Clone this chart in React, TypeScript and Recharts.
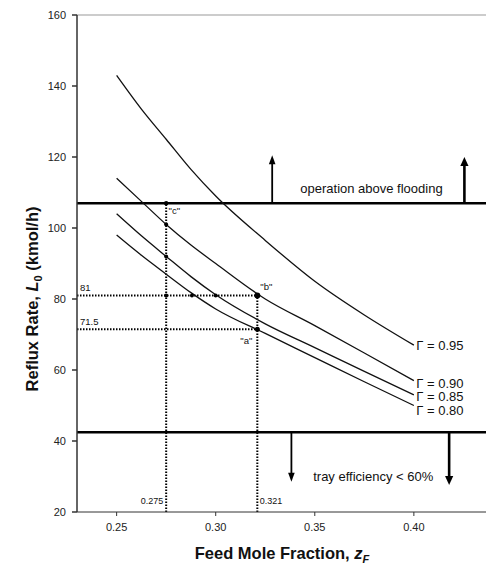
import { LineChart, Line, XAxis, YAxis, ReferenceLine, ReferenceDot } from 'recharts';

// feed mole fraction grid and reflux rate for each tray-efficiency curve
const zF = [0.25, 0.2625, 0.275, 0.2875, 0.30, 0.325, 0.35, 0.375, 0.40];
const gamma95 = [143, 133.5, 125, 116.5, 109, 96.5, 85, 75.5, 67];
const gamma90 = [114, 107.5, 101, 95.2, 90, 80, 72.5, 64.8, 57];
const gamma85 = [104, 97.8, 92, 86.3, 81.2, 73, 66.3, 59.6, 53];
const gamma80 = [98, 92.3, 87, 81.8, 77.2, 70.3, 63.5, 56.7, 50];

const SERIES = [
  { key: 'g95', values: gamma95, label: 'Γ = 0.95', labelY: 66.8 },
  { key: 'g90', values: gamma90, label: 'Γ = 0.90', labelY: 56.3 },
  { key: 'g85', values: gamma85, label: 'Γ = 0.85', labelY: 52.4 },
  { key: 'g80', values: gamma80, label: 'Γ = 0.80', labelY: 48.6 },
];

const X_TICKS = [0.25, 0.3, 0.35, 0.4];
const Y_TICKS = [20, 40, 60, 80, 100, 120, 140, 160];

const FLOODING = 107;
const LOW_EFFICIENCY = 42.5;

// dotted construction lines
const guides = [
  [{ x: 0.23, y: 81 }, { x: 0.321, y: 81 }],
  [{ x: 0.23, y: 71.5 }, { x: 0.321, y: 71.5 }],
  [{ x: 0.275, y: 20 }, { x: 0.275, y: 107 }],
  [{ x: 0.321, y: 20 }, { x: 0.321, y: 81 }],
];

const markers = [
  { x: 0.275, y: 107, r: 2.2 },
  { x: 0.275, y: 101, r: 2 },
  { x: 0.275, y: 92, r: 2 },
  { x: 0.275, y: 81, r: 2 },
  { x: 0.288, y: 81, r: 2 },
  { x: 0.30, y: 81, r: 2 },
  { x: 0.321, y: 81, r: 3 },
  { x: 0.321, y: 71.5, r: 2.5 },
];

// arrows: x, line start, tip
const upArrows = [
  { x: 0.3285, from: FLOODING, to: 120.5, w: 1.8 },
  { x: 0.4255, from: FLOODING, to: 120, w: 2.6 },
];
const downArrows = [
  { x: 0.3382, from: LOW_EFFICIENCY, to: 28.5, w: 1.8 },
  { x: 0.4178, from: LOW_EFFICIENCY, to: 27.6, w: 2.6 },
];

const notes = [
  { x: 0.3786, y: 110, text: 'operation above flooding', anchor: 'middle', size: 13 },
  { x: 0.3795, y: 28.7, text: 'tray efficiency < 60%', anchor: 'middle', size: 13 },
  { x: 0.2315, y: 82.2, text: '81', anchor: 'start', size: 9.5 },
  { x: 0.2315, y: 72.7, text: '71.5', anchor: 'start', size: 9.5 },
  { x: 0.2735, y: 22.3, text: '0.275', anchor: 'end', size: 9 },
  { x: 0.3222, y: 22.3, text: '0.321', anchor: 'start', size: 9 },
  { x: 0.2762, y: 104, text: '"c"', anchor: 'start', size: 9.5 },
  { x: 0.3225, y: 82.5, text: '"b"', anchor: 'start', size: 9.5 },
  { x: 0.3185, y: 67.2, text: '"a"', anchor: 'end', size: 9.5 },
];

const data = zF.map((z, i) => ({
  z,
  g95: gamma95[i],
  g90: gamma90[i],
  g85: gamma85[i],
  g80: gamma80[i],
}));

const FONT = "'Liberation Sans', Arial, sans-serif";
const tickStyle = { fill: '#222', fontSize: 11, fontFamily: FONT };

function textShape(text: string, anchor: string, size: number) {
  return (p: any) => (
    <text x={p.cx} y={p.cy} textAnchor={anchor} fontSize={size} fontFamily={FONT} fill="#111">
      {text}
    </text>
  );
}

function upHead(w: number) {
  return (p: any) => (
    <polygon points={`${p.cx},${p.cy} ${p.cx - w - 1.5},${p.cy + 9} ${p.cx + w + 1.5},${p.cy + 9}`} fill="#000" />
  );
}

function downHead(w: number) {
  return (p: any) => (
    <polygon points={`${p.cx},${p.cy} ${p.cx - w - 1.5},${p.cy - 9} ${p.cx + w + 1.5},${p.cy - 9}`} fill="#000" />
  );
}

const YLabel = () => (
  <text
    transform="translate(38,299) rotate(-90)"
    textAnchor="middle"
    fontSize={16.5}
    fontWeight="bold"
    fontFamily={FONT}
    fill="#111"
  >
    Reflux Rate, <tspan fontStyle="italic">L</tspan>
    <tspan dy={4} fontSize={11}>0</tspan>
    <tspan dy={-4}> (kmol/h)</tspan>
  </text>
);

const XLabel = () => (
  <text x={282} y={559} textAnchor="middle" fontSize={16.5} fontWeight="bold" fontFamily={FONT} fill="#111">
    Feed Mole Fraction, <tspan fontStyle="italic">z</tspan>
    <tspan dy={4} fontSize={11} fontStyle="italic">F</tspan>
  </text>
);

export default function App() {
  return (
    <div style={{ width: 486, height: 567, background: '#fff' }}>
      <style>{'body{margin:0}'}</style>
      <LineChart width={486} height={567} data={data} margin={{ top: 15, right: 0, bottom: 0, left: 0 }}>
        <XAxis
          dataKey="z"
          type="number"
          domain={[0.23, 0.4364]}
          allowDataOverflow
          ticks={X_TICKS}
          tickFormatter={(v: number) => v.toFixed(2)}
          tick={tickStyle}
          tickSize={4}
          tickMargin={7}
          height={55}
          stroke="#333"
          label={{ content: <XLabel /> }}
        />
        <YAxis
          type="number"
          domain={[20, 160]}
          ticks={Y_TICKS}
          tick={tickStyle}
          tickSize={5}
          tickMargin={6}
          width={77}
          stroke="#333"
          strokeWidth={1.5}
          label={{ content: <YLabel /> }}
        />
        <ReferenceLine y={160} stroke="#999" strokeWidth={1} />
        <ReferenceLine y={FLOODING} stroke="#000" strokeWidth={2.5} />
        <ReferenceLine y={LOW_EFFICIENCY} stroke="#000" strokeWidth={2.5} />
        {guides.map((seg, i) => (
          <ReferenceLine key={'g' + i} segment={seg} stroke="#000" strokeWidth={2} strokeDasharray="1.5 1.5" />
        ))}
        {upArrows.map((a, i) => (
          <ReferenceLine
            key={'ua' + i}
            segment={[{ x: a.x, y: a.from }, { x: a.x, y: a.to - 2 }]}
            stroke="#000"
            strokeWidth={a.w}
          />
        ))}
        {upArrows.map((a, i) => (
          <ReferenceDot key={'uh' + i} x={a.x} y={a.to} r={3} shape={upHead(a.w)} />
        ))}
        {downArrows.map((a, i) => (
          <ReferenceLine
            key={'da' + i}
            segment={[{ x: a.x, y: a.from }, { x: a.x, y: a.to + 2 }]}
            stroke="#000"
            strokeWidth={a.w}
          />
        ))}
        {downArrows.map((a, i) => (
          <ReferenceDot key={'dh' + i} x={a.x} y={a.to} r={3} shape={downHead(a.w)} />
        ))}
        {SERIES.map((s) => (
          <Line
            key={s.key}
            type="monotone"
            dataKey={s.key}
            stroke="#111"
            strokeWidth={1.3}
            dot={false}
            isAnimationActive={false}
          />
        ))}
        {markers.map((m, i) => (
          <ReferenceDot key={'m' + i} x={m.x} y={m.y} r={m.r} fill="#000" stroke="none" />
        ))}
        {SERIES.map((s) => (
          <ReferenceDot
            key={'l' + s.key}
            x={0.4012}
            y={s.labelY}
            r={1}
            shape={(p: any) => (
              <text x={p.cx} y={p.cy + 4.5} fontSize={13} fontFamily={FONT} fill="#111">
                {s.label}
              </text>
            )}
          />
        ))}
        {notes.map((n, i) => (
          <ReferenceDot key={'n' + i} x={n.x} y={n.y} r={1} shape={textShape(n.text, n.anchor, n.size)} />
        ))}
      </LineChart>
    </div>
  );
}
